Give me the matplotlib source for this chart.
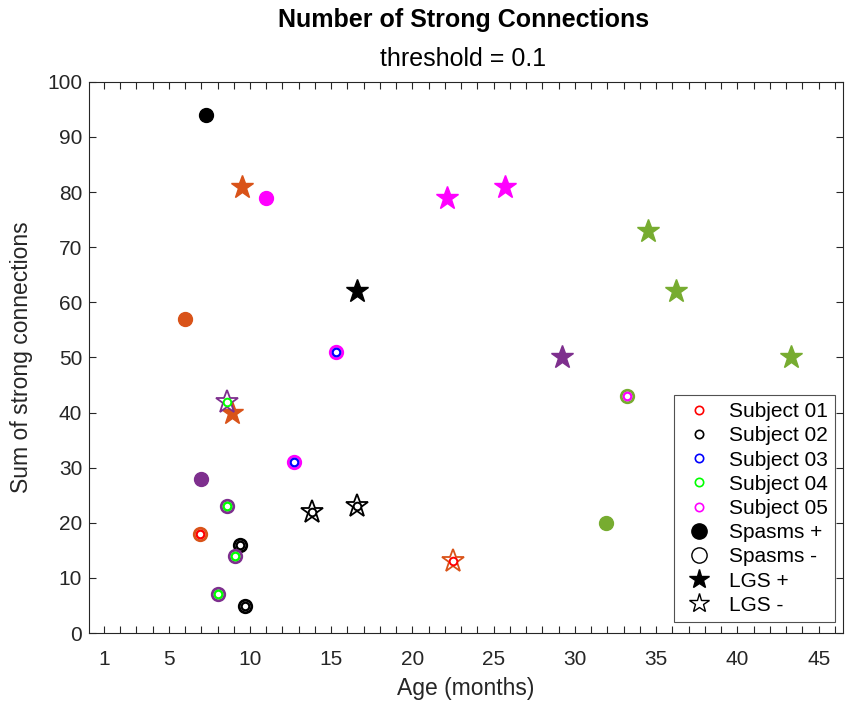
import numpy as np
import matplotlib.pyplot as plt
from matplotlib.lines import Line2D

plt.rcParams['font.family'] = ['Liberation Sans', 'DejaVu Sans']

# group colours (one per patient) and subject ring colours
orange = '#D95319'
purple = '#7E2F8E'
green = '#77AC30'
magenta = '#FF00FF'
black = '#000000'
s_red, s_blk, s_blu, s_grn, s_mag = '#FF0000', '#000000', '#0000FF', '#00FF00', '#FF00FF'

# filled circles: spasms +
sp_pos_age = [6.0, 7.3, 11.0, 7.0, 31.9]
sp_pos_val = [57, 94, 79, 28, 20]
sp_pos_col = [orange, black, magenta, purple, green]

# filled stars: LGS +
lgs_pos_age = [9.5, 8.9, 16.6, 22.1, 25.7, 29.2, 34.5, 36.2, 43.3]
lgs_pos_val = [81, 40, 62, 79, 81, 50, 73, 62, 50]
lgs_pos_col = [orange, orange, black, magenta, magenta, purple, green, green, green]

# open circles: spasms -
sp_neg_age = [6.9, 9.4, 9.7, 15.3, 12.7, 8.6, 9.1, 8.0, 33.2]
sp_neg_val = [18, 16, 5, 51, 31, 23, 14, 7, 43]
sp_neg_col = [orange, black, black, magenta, magenta, purple, purple, purple, green]
sp_neg_sub = [s_red, s_blk, s_blk, s_blu, s_blu, s_grn, s_grn, s_grn, s_mag]

# open stars: LGS -
lgs_neg_age = [22.5, 13.8, 16.6, 8.6]
lgs_neg_val = [13, 22, 23, 42]
lgs_neg_col = [orange, black, black, purple]
lgs_neg_sub = [s_red, s_blk, s_blk, s_grn]

subjects = ['Subject 01', 'Subject 02', 'Subject 03', 'Subject 04', 'Subject 05']
subject_cols = [s_red, s_blk, s_blu, s_grn, s_mag]

fig = plt.figure(figsize=(8.49, 7.05), dpi=100)
ax = fig.add_axes([0.105, 0.102, 0.888, 0.782])

for x, y, c in zip(sp_pos_age, sp_pos_val, sp_pos_col):
    ax.plot(x, y, 'o', ms=10, mfc=c, mec=c)
for x, y, c in zip(lgs_pos_age, lgs_pos_val, lgs_pos_col):
    ax.plot(x, y, '*', ms=17, mfc=c, mec=c)
for x, y, c, s in zip(sp_neg_age, sp_neg_val, sp_neg_col, sp_neg_sub):
    ax.plot(x, y, 'o', ms=9, mfc='white', mec=c, mew=2.0)
    ax.plot(x, y, 'o', ms=5.5, mfc='white', mec=s, mew=1.6)
for x, y, c, s in zip(lgs_neg_age, lgs_neg_val, lgs_neg_col, lgs_neg_sub):
    ax.plot(x, y, '*', ms=17, mfc='white', mec=c, mew=1.3)
    ax.plot(x, y, 'o', ms=5.5, mfc='white', mec=s, mew=1.4)

ax.set_xlim(0.1, 46.5)
ax.set_ylim(0, 100)
ax.set_xticks([1, 5, 10, 15, 20, 25, 30, 35, 40, 45])
ax.set_xticks(np.arange(1, 47), minor=True)
ax.set_yticks(np.arange(0, 101, 10))
ax.tick_params(which='both', direction='in', top=True, right=True,
               length=5, width=0.8, labelsize=15, colors='#262626')
ax.tick_params(axis='y', pad=5)
ax.tick_params(axis='x', pad=12)
for sp in ax.spines.values():
    sp.set_color('#262626')
    sp.set_linewidth(0.8)

ax.set_xlabel('Age (months)', fontsize=16.5, color='#262626', labelpad=6)
ax.set_ylabel('Sum of strong connections', fontsize=16.5, color='#262626', labelpad=10)
fig.text(0.546, 0.972, 'Number of Strong Connections', ha='center', va='center',
         fontsize=18, fontweight='bold')
fig.text(0.546, 0.917, 'threshold = 0.1', ha='center', va='center', fontsize=18)

handles = [Line2D([], [], ls='none', marker='o', ms=6, mfc='none', mec=c, mew=1.2)
           for c in subject_cols]
handles += [
    Line2D([], [], ls='none', marker='o', ms=11, mfc='k', mec='k'),
    Line2D([], [], ls='none', marker='o', ms=11, mfc='none', mec='k', mew=1.0),
    Line2D([], [], ls='none', marker='*', ms=15, mfc='k', mec='k'),
    Line2D([], [], ls='none', marker='*', ms=15, mfc='none', mec='k', mew=1.0),
]
labels = subjects + ['Spasms +', 'Spasms -', 'LGS +', 'LGS -']
leg = ax.legend(handles, labels, loc='lower right', bbox_to_anchor=(0.9895, 0.02),
                borderaxespad=0, fontsize=15, frameon=True, fancybox=False,
                edgecolor='#262626', handletextpad=0.6, handlelength=1.7,
                labelspacing=0.25, borderpad=0.35)
leg.get_frame().set_linewidth(0.8)

fig.savefig('out.png', dpi=100)
